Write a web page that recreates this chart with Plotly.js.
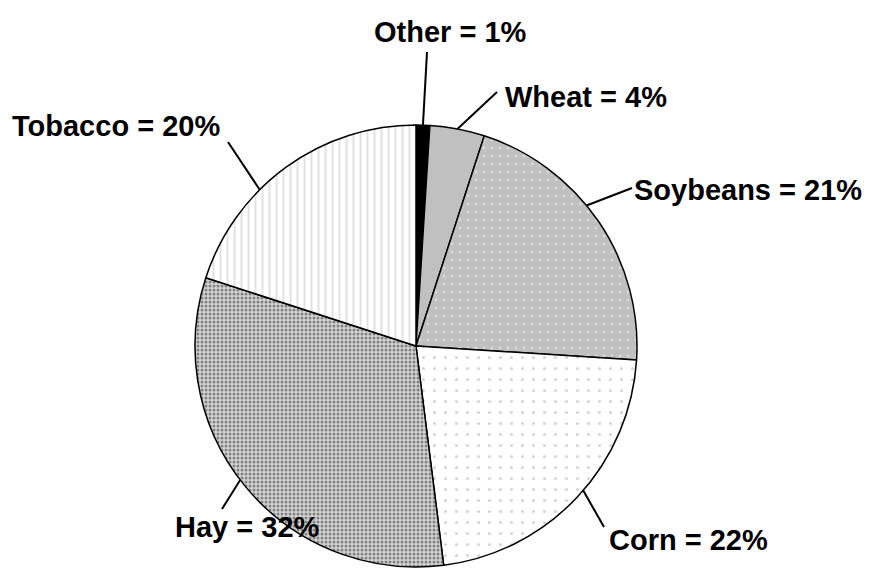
<!DOCTYPE html>
<html>
<head>
<meta charset="utf-8">
<script src="https://cdn.plot.ly/plotly-3.0.1.min.js"></script>
<style>html,body{margin:0;padding:0;background:#fff;}#chart{width:869px;height:570px;}</style>
</head>
<body>
<div id="chart"></div>
<script>
// ---- data ----
const labels = ['Other', 'Wheat', 'Soybeans', 'Corn', 'Hay', 'Tobacco'];
const values = [1, 4, 21, 22, 32, 20];

// ---- styles ----
const fillColors = ['#000000', '#c0c0c0', '#c0c0c0', '#ffffff', '#d4d4d4', '#ffffff'];
const patShapes  = ['', '', '.', '.', '.', '|'];
const patFg      = ['#000000', '#c0c0c0', '#f2f2f2', '#a8a8a8', '#2e2e2e', '#c4c4c4'];
const patSize    = [8, 8, 8, 11, 4, 7];
const patSolid   = [0.3, 0.3, 0.1, 0.06, 0.45, 0.28];

// ---- layout geometry (px) ----
const W = 869, H = 570;
const M = {l: 195, r: 232, t: 125, b: 3};
const pw = W - M.l - M.r, ph = H - M.t - M.b;
const cx = M.l + pw / 2, cy = M.t + ph / 2, R = Math.min(pw, ph) / 2;
const toPX = px => (px - M.l) / pw;
const toPY = py => (H - M.b - py) / ph;

// label placement (px centres) and leader geometry
const labelPos  = [[450, 32], [586, 97], [748, 190], [688, 540], [247, 527], [116, 126]];
const leaderOut = [[427, 52], [497, 92], [632, 188], [604, 527], [222, 509], [228, 142]];
const leaderFrac = [0.5, 0.5, 0.43, 0.47, 0.52, 0.375];

const total = values.reduce((a, b) => a + b, 0);
let cum = 0;
const shapes = [], annotations = [];
values.forEach((v, i) => {
  const a = (cum + v * leaderFrac[i]) / total * 2 * Math.PI;
  cum += v;
  const ix = cx + R * Math.sin(a), iy = cy - R * Math.cos(a);
  shapes.push({type: 'line', xref: 'paper', yref: 'paper',
    x0: toPX(ix), y0: toPY(iy), x1: toPX(leaderOut[i][0]), y1: toPY(leaderOut[i][1]),
    line: {color: '#000', width: 2}});
  annotations.push({xref: 'paper', yref: 'paper', x: toPX(labelPos[i][0]), y: toPY(labelPos[i][1]),
    xanchor: 'center', yanchor: 'middle', showarrow: false,
    text: labels[i] + ' = ' + v + '%',
    font: {family: 'Liberation Sans, Arial, sans-serif', size: 29, color: '#000', weight: 'bold'}});
});

const trace = {
  type: 'pie', labels: labels, values: values, sort: false,
  direction: 'clockwise', rotation: 0, textinfo: 'none', hoverinfo: 'none',
  showlegend: false,
  marker: {
    colors: fillColors,
    line: {color: '#000', width: 1.5},
    pattern: {shape: patShapes, fgcolor: patFg, bgcolor: fillColors, size: patSize, solidity: patSolid, fillmode: 'overlay'}
  },
  domain: {x: [0, 1], y: [0, 1]}
};

Plotly.newPlot('chart', [trace], {
  width: W, height: H, margin: M, paper_bgcolor: '#fff', plot_bgcolor: '#fff',
  showlegend: false, shapes: shapes, annotations: annotations
}, {staticPlot: true, displayModeBar: false});
</script>
</body>
</html>
